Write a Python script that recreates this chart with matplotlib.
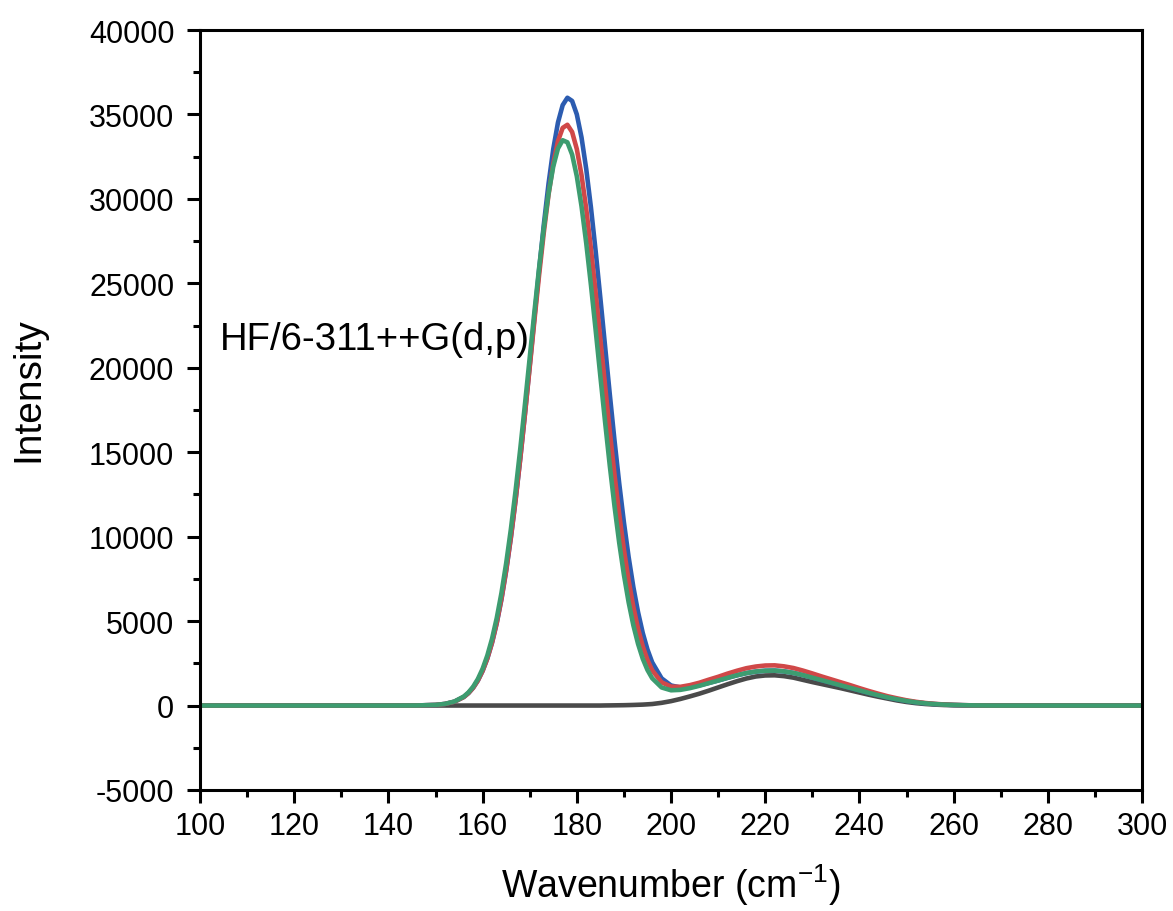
import matplotlib
matplotlib.use("Agg")
import matplotlib.pyplot as plt
from matplotlib.ticker import MultipleLocator

plt.rcParams['font.family'] = ['Liberation Sans', 'DejaVu Sans']
plt.rcParams['axes.unicode_minus'] = False
plt.rcParams['mathtext.fontset'] = 'custom'
plt.rcParams['mathtext.rm'] = 'Liberation Sans'

# wavenumber grid (cm-1)
wavenumber = ([100, 140, 146, 150, 152, 154]
              + list(range(156, 197))
              + list(range(198, 269, 2))
              + [280, 300])

# intensities
black = ([0, 0, 0, 0, 0, 0]
         + [0] * 30
         + [5, 8, 12, 16, 20, 27, 35, 45, 55, 72, 90]
         + [160, 260, 390, 540, 700, 880, 1070, 1260, 1440, 1600, 1720, 1780,
            1790, 1740, 1650, 1520, 1390, 1270, 1150, 1030, 900, 770, 640, 520,
            410, 300, 210, 140, 90, 55, 30, 15, 8, 3, 0, 0]
         + [0, 0])

blue = ([0, 0, 4, 37, 95, 226]
        + [505, 736, 1053, 1480, 2047, 2780, 3712, 4872, 6287, 7968, 9928,
           12155, 14627, 17300, 20113, 22983, 25809, 28486, 30902, 32948, 34524,
           35553, 35988, 35801, 35004, 33638, 31770, 29490, 26907, 24124, 21276,
           18434, 15704, 13160, 10846, 8796, 7023, 5532, 4297, 3318, 2558]
        + [1610, 1188, 1067, 1093, 1195, 1337, 1480, 1640, 1790, 1920, 2010, 2060,
           2070, 2020, 1930, 1800, 1650, 1500, 1350, 1200, 1050, 900, 750, 610,
           480, 370, 270, 190, 130, 85, 55, 35, 20, 10, 5, 0]
        + [0, 0])

red = ([0, 0, 4, 36, 93, 224]
       + [504, 735, 1055, 1486, 2058, 2798, 3739, 4909, 6330, 8022, 9976,
          12198, 14651, 17283, 20031, 22807, 25511, 28029, 30255, 32085, 33423,
          34204, 34388, 33963, 32952, 31407, 29409, 27049, 24445, 21700, 18940,
          16232, 13678, 11332, 9231, 7402, 5846, 4554, 3510, 2698, 2089]
       + [1375, 1121, 1109, 1207, 1349, 1530, 1700, 1890, 2060, 2210, 2310, 2370,
          2380, 2320, 2220, 2070, 1900, 1720, 1550, 1380, 1210, 1030, 860, 700,
          550, 425, 310, 220, 150, 100, 63, 40, 23, 12, 6, 0]
       + [0, 0])

green = ([0, 0, 4, 37, 97, 236]
         + [532, 778, 1117, 1574, 2178, 2961, 3953, 5179, 6663, 8419, 10439,
            12717, 15209, 17859, 20592, 23316, 25922, 28297, 30328, 31919, 32987,
            33473, 33350, 32629, 31342, 29564, 27380, 24901, 22234, 19494, 16799,
            14207, 11809, 9643, 7742, 6117, 4757, 3653, 2773, 2106, 1617]
         + [1070, 903, 928, 1030, 1168, 1326, 1480, 1640, 1790, 1920, 2010, 2060,
            2070, 2020, 1930, 1800, 1650, 1500, 1350, 1200, 1050, 900, 750, 610,
            480, 370, 270, 190, 130, 85, 55, 35, 20, 10, 5, 0]
         + [0, 0])

fig = plt.figure(figsize=(11.73, 9.12), dpi=100)
ax = fig.add_axes([0.1705, 0.1327, 0.8031, 0.8333])

lw = 3.3
ax.plot(wavenumber, black, color='#4a4a4a', lw=lw, solid_joinstyle='round')
ax.plot(wavenumber, blue, color='#2c5cb0', lw=lw, solid_joinstyle='round')
ax.plot(wavenumber, red, color='#d04848', lw=lw, solid_joinstyle='round')
ax.plot(wavenumber, green, color='#3d9c70', lw=lw, solid_joinstyle='round')

ax.set_xlim(100, 300)
ax.set_ylim(-5000, 40000)
ax.xaxis.set_major_locator(MultipleLocator(20))
ax.xaxis.set_minor_locator(MultipleLocator(10))
ax.yaxis.set_major_locator(MultipleLocator(5000))
ax.yaxis.set_minor_locator(MultipleLocator(2500))

for s in ax.spines.values():
    s.set_linewidth(2.2)
ax.tick_params(which='major', direction='out', length=9.5, width=2.2,
               labelsize=22, top=False, right=False)
ax.tick_params(which='minor', direction='out', length=5, width=2.2,
               top=False, right=False)
ax.tick_params(axis='x', which='major', pad=5.5)
ax.tick_params(axis='y', which='major', pad=9)

ax.set_xlabel(r'Wavenumber (cm$^{\mathregular{-1}}$)', fontsize=27, labelpad=15)
ax.set_ylabel('Intensity', fontsize=28)
ax.yaxis.set_label_coords(-0.163, 0.528)

ax.text(104.2, 21140, 'HF/6-311++G(d,p)', fontsize=27.5, va='baseline', ha='left')

fig.savefig('out.png', dpi=100)
